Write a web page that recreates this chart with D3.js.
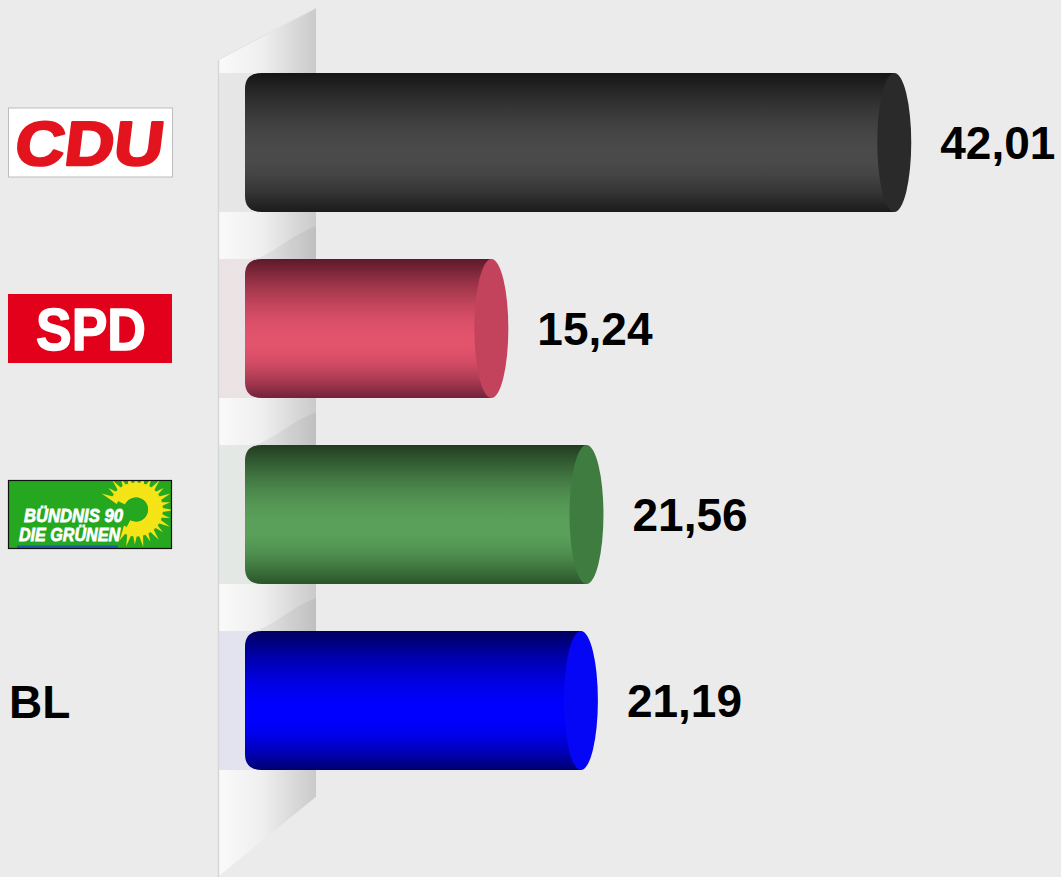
<!DOCTYPE html>
<html><head><meta charset="utf-8">
<script src="https://cdn.jsdelivr.net/npm/d3@7"></script>
<style>html,body{margin:0;padding:0;background:#ebebeb;}svg{display:block;}</style>
</head><body>
<svg id="chart" width="1061" height="877"></svg>
<script>
// ---- data ----
const categories = ["CDU", "SPD", "GRÜNE", "BL"];
const values = [42.01, 15.24, 21.56, 21.19];
const valueLabels = ["42,01", "15,24", "21,56", "21,19"];
const logoTexts = ["CDU", "SPD", "BÜNDNIS 90|DIE GRÜNEN", "BL"];

// ---- styles ----
const palette = [
  {top:"#151515", mid:"#4a4a4a", bot:"#1b1b1b", cap:"#2a2a2a", tint:"#e7e7e7"},
  {top:"#5c192a", mid:"#e3536c", bot:"#72223a", cap:"#c2435b", tint:"#ece2e4"},
  {top:"#203c20", mid:"#5aa05a", bot:"#2a542a", cap:"#3f7c3f", tint:"#e4e9e4"},
  {top:"#00005e", mid:"#0000ff", bot:"#000070", cap:"#0606f6", tint:"#e3e3f1"}
];
const FONT = "'Liberation Sans', Arial, Helvetica, sans-serif";

const svg = d3.select("#chart");
svg.append("rect").attr("width",1061).attr("height",877).attr("fill","#ebebeb");

const x = d3.scaleLinear().domain([0, 50]).range([262, 1014.5]);
const y = d3.scaleBand().domain(categories).range([73, 770]).paddingInner(0.2527).paddingOuter(0);
const bh = y.bandwidth();
const rx = 17;

const defs = svg.append("defs");
const wg = defs.append("linearGradient").attr("id","wallGrad").attr("x1",0).attr("x2",1).attr("y1",0).attr("y2",0);
[["0%","#fafafa"],["45%","#efefef"],["100%","#cacaca"]].forEach(s=>wg.append("stop").attr("offset",s[0]).attr("stop-color",s[1]));
palette.forEach((p,i)=>{
  const g = defs.append("linearGradient").attr("id","bar"+i).attr("x1",0).attr("x2",0).attr("y1",0).attr("y2",1);
  const up = d3.interpolateRgb(p.top, p.mid), dn = d3.interpolateRgb(p.mid, p.bot);
  const stops = [], peak = 0.6;
  for (let k=0;k<=12;k++){ const t=k/12; stops.push([peak*t, up(d3.easeSinOut(t))]); }
  for (let k=1;k<=12;k++){ const t=k/12; stops.push([peak+(1-peak)*t, dn(d3.easeSinIn(t))]); }
  stops.forEach(s=>g.append("stop").attr("offset",s[0]).attr("stop-color",s[1]));
  const t = defs.append("linearGradient").attr("id","tint"+i).attr("x1",0).attr("x2",1).attr("y1",0).attr("y2",0);
  [["0%",p.tint],["100%","#e4e4e4"]].forEach(s=>t.append("stop").attr("offset",s[0]).attr("stop-color",s[1]));
});

// ---- wall ----
const wallL = 218, wallR = 316;
const wallPts = [[wallL,60],[wallR,8],[wallR,797],[wallL,877]];
defs.append("clipPath").attr("id","wallClip").append("polygon").attr("points", wallPts.map(p=>p.join(",")).join(" "));
const wall = svg.append("g").attr("clip-path","url(#wallClip)");
wall.append("polygon").attr("points", wallPts.map(p=>p.join(",")).join(" ")).attr("fill","url(#wallGrad)");
const tops = categories.map(c=>y(c));
for (let i=0;i<categories.length-1;i++){
  const g0 = tops[i]+bh, g1 = tops[i+1];
  wall.append("path")
    .attr("d",`M${wallR},${g0+14} C${wallR-25},${g0+24} ${wallR-40},${g1-8} ${wallL+40},${g1-1} L${wallL+30},${g1} L${wallR},${g1} Z`)
    .attr("fill","#000").attr("opacity",0.05);
}
categories.forEach((c,i)=>{
  wall.append("rect").attr("x",wallL).attr("y",y(c)).attr("width",wallR-wallL).attr("height",bh).attr("fill","url(#tint"+i+")");
});
svg.append("line").attr("x1",wallL+0.5).attr("x2",wallL+0.5).attr("y1",60).attr("y2",877).attr("stroke","#d6d6d6").attr("stroke-width",1.5);
svg.append("line").attr("x1",wallL).attr("x2",wallR).attr("y1",60).attr("y2",8).attr("stroke","#e2e2e2").attr("stroke-width",1);

// ---- bars ----
categories.forEach((c,i)=>{
  const t = y(c), b = t + bh, x0 = x(0), x1 = x(values[i]);
  const r = 16;
  const g = svg.append("g");
  g.append("path")
    .attr("d",`M${x0},${t} L${x1},${t} L${x1},${b} L${x0},${b} Q${x0-rx},${b} ${x0-rx},${b-r} L${x0-rx},${t+r} Q${x0-rx},${t} ${x0},${t} Z`)
    .attr("fill","url(#bar"+i+")");
  g.append("ellipse").attr("cx",x1).attr("cy",t+bh/2).attr("rx",rx).attr("ry",bh/2)
    .attr("fill",palette[i].cap);
  svg.append("text").attr("x",x1+rx+29).attr("y",t+bh/2+16.5)
    .attr("font-family",FONT).attr("font-weight","bold").attr("font-size",46).attr("fill","#000")
    .text(valueLabels[i]);
});

// ---- logos ----
const boxX = 8, boxW = 164, boxH = 69;
categories.forEach((c,i)=>{
  const cy = y(c) + bh/2;
  const g = svg.append("g");
  if (i===0){
    g.append("rect").attr("x",boxX+0.5).attr("y",cy-34.5).attr("width",boxW).attr("height",boxH).attr("fill","#fff").attr("stroke","#bdbdbd");
    g.append("text").attr("x",boxX+boxW/2+0.5).attr("y",cy+22.5).attr("text-anchor","middle")
      .attr("font-family",FONT).attr("font-weight",900).attr("font-size",62)
      .attr("transform",`translate(${(cy)*0.12},0) skewX(-7)`)
      .attr("fill","#e3141e").attr("stroke","#e3141e").attr("stroke-width",2.5).attr("stroke-linejoin","round")
      .attr("textLength",148).attr("lengthAdjust","spacingAndGlyphs").text(logoTexts[i]);
  } else if (i===1){
    g.append("rect").attr("x",boxX).attr("y",cy-34.5).attr("width",boxW).attr("height",boxH).attr("fill","#e3001b");
    g.append("text").attr("x",boxX+boxW/2+1).attr("y",cy+21.5).attr("text-anchor","middle")
      .attr("font-family",FONT).attr("font-weight",900).attr("font-size",59)
      .attr("fill","#fff").attr("stroke","#fff").attr("stroke-width",1.5).attr("stroke-linejoin","round")
      .attr("textLength",110).attr("lengthAdjust","spacingAndGlyphs").text(logoTexts[i]);
  } else if (i===2){
    const by = cy-34.5;
    defs.append("clipPath").attr("id","gClip").append("rect").attr("x",boxX).attr("y",by).attr("width",boxW).attr("height",boxH);
    g.append("rect").attr("x",boxX).attr("y",by).attr("width",boxW).attr("height",boxH).attr("fill","#25a820");
    const inner = g.append("g").attr("clip-path","url(#gClip)");
    const fcx = 136, fcy = cy-5;
    const petalAngles = d3.range(205, 482, 13);
    inner.append("path")
      .attr("d", d3.arc().innerRadius(12).outerRadius(27).startAngle((205+90)*Math.PI/180).endAngle((478+90)*Math.PI/180)())
      .attr("transform",`translate(${fcx},${fcy})`).attr("fill","#f5e416");
    inner.selectAll("path.petal").data(petalAngles).join("path").attr("class","petal")
      .attr("d", (a,k)=>{
        const r1=20, r2=35 + (k%2===0?3:0), w=9*Math.PI/180, ar=a*Math.PI/180;
        const p = (r,ang)=>[fcx+r*Math.cos(ang), fcy+r*Math.sin(ang)];
        const A=p(r1,ar-w), B=p(r2,ar), C=p(r1,ar+w);
        return `M${A} L${B} L${C} Z`;
      }).attr("fill","#f5e416");
    inner.append("circle").attr("cx",fcx).attr("cy",fcy).attr("r",12).attr("fill","#25a820");
    inner.append("rect").attr("x",17).attr("y",by+boxH-3.5).attr("width",101).attr("height",4).attr("fill","#1d5bb0");
    const lines = logoTexts[i].split("|");
    inner.append("text").attr("x",24).attr("y",cy+7.5)
      .attr("font-family",FONT).attr("font-weight","bold").attr("font-style","italic").attr("font-size",19)
      .attr("fill","#fff").attr("stroke","#fff").attr("stroke-width",0.8)
      .attr("textLength",99).attr("lengthAdjust","spacingAndGlyphs").text(lines[0]);
    inner.append("text").attr("x",19).attr("y",cy+26.5)
      .attr("font-family",FONT).attr("font-weight","bold").attr("font-style","italic").attr("font-size",19)
      .attr("fill","#fff").attr("stroke","#fff").attr("stroke-width",0.8)
      .attr("textLength",101).attr("lengthAdjust","spacingAndGlyphs").text(lines[1]);
    g.append("rect").attr("x",boxX+0.5).attr("y",by+0.5).attr("width",boxW-1).attr("height",boxH-1).attr("fill","none").attr("stroke","#111").attr("stroke-width",1.2);
  } else {
    g.append("text").attr("x",9).attr("y",cy+17.5)
      .attr("font-family",FONT).attr("font-weight","bold").attr("font-size",46).attr("fill","#000")
      .text(logoTexts[i]);
  }
});
</script>
</body></html>
